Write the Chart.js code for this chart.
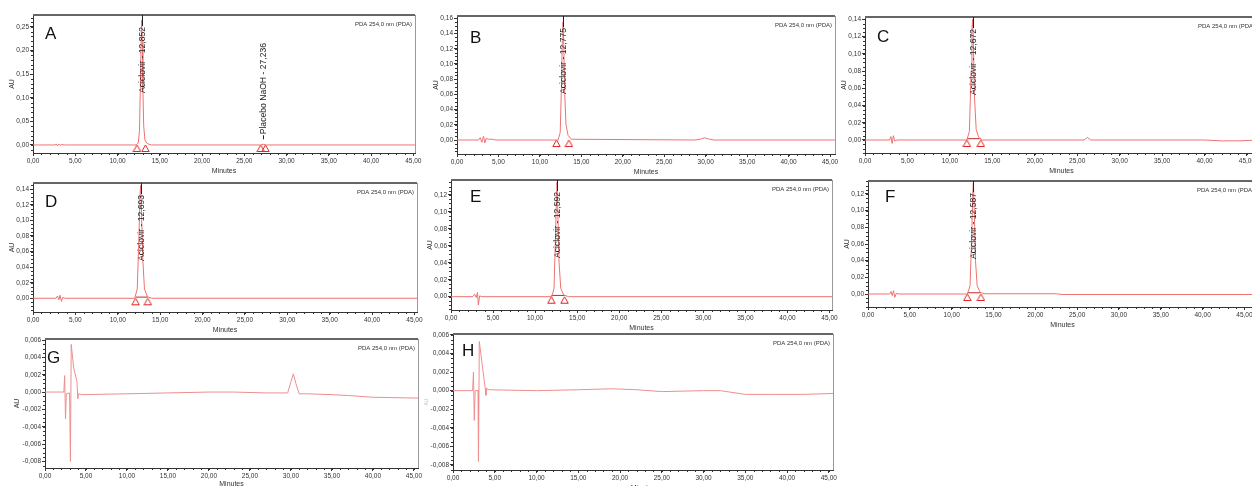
<!DOCTYPE html>
<html>
<head>
<meta charset="utf-8">
<script src="https://cdn.jsdelivr.net/npm/chart.js@4.4.1/dist/chart.umd.min.js"></script>
<style>
html, body { margin: 0; padding: 0; background: #fff; }
body { width: 1252px; height: 486px; overflow: hidden; position: relative; }
canvas { position: absolute; }
</style>
</head>
<body>
<script>
// ---- tick labels ----
const minuteTicks = [0, 5, 10, 15, 20, 25, 30, 35, 40, 45];
const auTicksA = [0, 0.05, 0.10, 0.15, 0.20, 0.25];
const auTicksB = [0, 0.02, 0.04, 0.06, 0.08, 0.10, 0.12, 0.14, 0.16];
const auTicksCD = [0, 0.02, 0.04, 0.06, 0.08, 0.10, 0.12, 0.14];
const auTicksEF = [0, 0.02, 0.04, 0.06, 0.08, 0.10, 0.12];
const auTicksGH = [-0.008, -0.006, -0.004, -0.002, 0, 0.002, 0.004, 0.006];

// ---- chromatograms (minutes / AU) ----
const timeA = [0, 2.6, 2.75, 2.9, 3.05, 3.2, 3.4, 3.7, 4.2, 12.2, 12.45, 12.6, 12.7, 12.8, 12.85, 12.92, 13.0, 13.1, 13.25, 13.5, 14.0, 26.9, 27.24, 27.6, 45.3];
const auA   = [0, 0, 0.002, -0.002, 0.002, -0.001, 0.001, 0, 0, 0, 0.004, 0.03, 0.12, 0.23, 0.265, 0.22, 0.12, 0.04, 0.01, 0.003, 0, 0, 0.0015, 0, 0];

const timeB = [0, 2.6, 2.8, 3.0, 3.2, 3.35, 3.5, 3.8, 4.3, 4.6, 12.2, 12.45, 12.6, 12.7, 12.78, 12.87, 13.0, 13.15, 13.4, 13.8, 28.8, 29.5, 29.85, 30.3, 31.0, 45.7];
const auB   = [0, 0, 0.003, -0.003, 0.005, -0.004, 0.002, 0.001, 0.001, 0, 0, 0.01, 0.07, 0.13, 0.155, 0.13, 0.06, 0.02, 0.006, 0.001, 0, 0.0015, 0.003, 0.0015, 0, 0];

const timeC = [0, 2.9, 3.05, 3.2, 3.35, 3.5, 3.8, 12.0, 12.3, 12.5, 12.6, 12.67, 12.75, 12.9, 13.1, 13.4, 13.8, 25.8, 26.2, 26.6, 40, 42, 44, 46.5];
const auC   = [0, 0, 0.004, -0.004, 0.005, -0.001, 0, 0, 0.01, 0.08, 0.125, 0.14, 0.12, 0.05, 0.012, 0.003, 0, 0, 0.003, 0, 0, -0.001, -0.001, 0];

const timeD = [0, 2.7, 2.9, 3.05, 3.2, 3.35, 3.5, 3.8, 12.0, 12.3, 12.5, 12.62, 12.69, 12.78, 12.95, 13.15, 13.5, 14.0, 45.4];
const auD   = [0, 0, 0.003, -0.002, 0.004, -0.004, 0.001, 0, 0, 0.012, 0.08, 0.13, 0.145, 0.12, 0.05, 0.012, 0.002, 0, 0];

const timeE = [0, 2.6, 2.8, 3.0, 3.15, 3.25, 3.4, 3.7, 12.0, 12.25, 12.45, 12.55, 12.6, 12.68, 12.85, 13.05, 13.4, 14.0, 45.4];
const auE   = [0, 0, 0.003, -0.001, 0.005, -0.01, 0.001, 0, 0, 0.01, 0.08, 0.125, 0.135, 0.11, 0.04, 0.01, 0.002, 0, 0];

const timeF = [0, 2.6, 2.75, 2.9, 3.05, 3.2, 3.4, 3.7, 11.9, 12.2, 12.4, 12.52, 12.59, 12.68, 12.85, 13.05, 13.4, 14.0, 22.5, 23.2, 45, 46.6];
const auF   = [0, 0, 0.003, -0.002, 0.004, -0.004, 0.001, 0, 0, 0.01, 0.07, 0.12, 0.133, 0.11, 0.04, 0.01, 0.002, 0.0003, 0.0003, -0.0006, -0.0006, -0.0006];

const timeG = [0, 2.3, 2.4, 2.5, 2.6, 3.0, 3.1, 3.2, 3.5, 3.9, 4.0, 4.1, 4.5, 10, 15, 20, 23, 27, 29.6, 30.0, 30.3, 30.6, 31.0, 32, 35, 37, 40, 45.6];
const auG   = [0, 0, 0.0019, -0.0031, -0.0002, -0.0001, -0.008, 0.0055, 0.0028, 0.0012, -0.0008, -0.0002, -0.0003, -0.0002, -0.0001, 0.0, 0.0, -0.0001, -0.0001, 0.0012, 0.0021, 0.0010, -0.0002, -0.0002, -0.0003, -0.0004, -0.0006, -0.0007];

const timeH = [0, 2.35, 2.45, 2.55, 2.65, 3.0, 3.05, 3.15, 3.5, 3.85, 3.95, 4.05, 4.3, 10, 15, 19, 22, 25, 30, 32, 35, 38, 42, 45.6];
const auH   = [0, 0, 0.002, -0.0032, 0, 0, -0.0076, 0.0053, 0.0028, 0.0003, -0.0005, 0.0002, 0.0001, 0, 0.0001, 0.0002, 0.0001, -0.0001, 0, 0, -0.0004, -0.0004, -0.0004, -0.0003];

// integration start/end marks (minutes)
const marksA = [12.3, 13.3, 26.95, 27.5];
const marksB = [12.0, 13.5];
const marksC = [12.0, 13.65];
const marksD = [12.1, 13.55];
const marksE = [11.93, 13.5];
const marksF = [11.87, 13.5];

// named peaks: retention time; au given -> label sits on top of the peak
const peaksA = [{ name: 'Aciclovir', rt: 12.852 }, { name: 'Placebo NaOH', rt: 27.236, au: 0.0015 }];
const peaksB = [{ name: 'Aciclovir', rt: 12.775 }];
const peaksC = [{ name: 'Aciclovir', rt: 12.672 }];
const peaksD = [{ name: 'Aciclovir', rt: 12.693 }];
const peaksE = [{ name: 'Aciclovir', rt: 12.592 }];
const peaksF = [{ name: 'Aciclovir', rt: 12.587 }];

// ---- layout ----
const family = '"Liberation Sans", Arial, sans-serif';
Chart.defaults.font.family = family;
Chart.defaults.color = '#333';

const panels = [
  { letter: 'A', time: timeA, au: auA, marks: marksA, base: false, peaks: peaksA, yTicks: auTicksA, yMinor: 0.01, dec: 2,
    box: [33, 15, 415, 153], xMax: 45.2, yMin: -0.017, yMax: 0.2754, W: 25, xh: 22, at: [12, 19] },
  { letter: 'B', time: timeB, au: auB, marks: marksB, base: false, peaks: peaksB, yTicks: auTicksB, yMinor: 0.005, dec: 2,
    box: [457, 16, 835, 154], xMax: 45.6, yMin: -0.0184, yMax: 0.163, W: 25, xh: 22, at: [13, 22] },
  { letter: 'C', time: timeC, au: auC, marks: marksC, base: true, peaks: peaksC, yTicks: auTicksCD, yMinor: 0.005, dec: 2,
    box: [865, 17, 1258, 153], xMax: 46.3, yMin: -0.0151, yMax: 0.1427, W: 25, xh: 22, at: [12, 20] },
  { letter: 'D', time: timeD, au: auD, marks: marksD, base: true, peaks: peaksD, yTicks: auTicksCD, yMinor: 0.005, dec: 2,
    box: [33, 183, 417, 312], xMax: 45.3, yMin: -0.0176, yMax: 0.148, W: 25, xh: 22, at: [12, 19] },
  { letter: 'E', time: timeE, au: auE, marks: marksE, base: true, peaks: peaksE, yTicks: auTicksEF, yMinor: 0.005, dec: 2,
    box: [451, 180, 832, 310], xMax: 45.3, yMin: -0.0157, yMax: 0.1377, W: 25, xh: 22, at: [19, 17] },
  { letter: 'F', time: timeF, au: auF, marks: marksF, base: true, peaks: peaksF, yTicks: auTicksEF, yMinor: 0.005, dec: 2,
    box: [868, 181, 1257, 307], xMax: 46.5, yMin: -0.0156, yMax: 0.1356, W: 25, xh: 22, at: [17, 16] },
  { letter: 'G', time: timeG, au: auG, marks: [], base: false, peaks: [], yTicks: auTicksGH, yMinor: 0.0005, dec: 3,
    box: [45, 339, 418, 468], xMax: 45.5, yMin: -0.00876, yMax: 0.00612, W: 32, xh: 20, at: [2, 19] },
  { letter: 'H', time: timeH, au: auH, marks: [], base: false, peaks: [], yTicks: auTicksGH, yMinor: 0.0005, dec: 3,
    box: [453, 334, 833, 470], xMax: 45.5, yMin: -0.00854, yMax: 0.0061, W: 29, xh: 22, at: [9, 17], faintAU: true }
];

const PAD_T = 6, PAD_R = 12;

function fmt(v, d) {
  return v.toFixed(d).replace('.', ',');
}

// open red triangle drawn just below the point it marks
function makeTriangle() {
  const c = document.createElement('canvas');
  c.width = 9; c.height = 16;
  const g = c.getContext('2d');
  g.strokeStyle = '#e02424';
  g.lineWidth = 1;
  g.beginPath();
  g.moveTo(4.5, 8);
  g.lineTo(8.2, 14.5);
  g.lineTo(0.8, 14.5);
  g.closePath();
  g.stroke();
  return c;
}
const triangle = makeTriangle();

// minor ticks, frame, panel letter, detector label and peak labels
const decor = {
  id: 'decor',
  afterDraw(chart, args, o) {
    const { ctx, chartArea: a, scales: { x, y } } = chart;
    ctx.save();

    ctx.strokeStyle = '#333';
    ctx.lineWidth = 1;
    ctx.beginPath();
    for (let n = Math.ceil(x.min / o.xMinor); n * o.xMinor <= x.max; n++) {
      const px = Math.round(x.getPixelForValue(n * o.xMinor)) + 0.5;
      ctx.moveTo(px, a.bottom);
      ctx.lineTo(px, a.bottom + 2);
    }
    for (let n = Math.ceil(y.min / o.yMinor - 1e-6); n * o.yMinor <= y.max; n++) {
      const py = Math.round(y.getPixelForValue(n * o.yMinor)) + 0.5;
      ctx.moveTo(a.left, py);
      ctx.lineTo(a.left - 2, py);
    }
    ctx.stroke();

    // frame: heavy top, thin right
    ctx.strokeStyle = '#666';
    ctx.lineWidth = 2;
    ctx.beginPath();
    ctx.moveTo(a.left, a.top);
    ctx.lineTo(a.right, a.top);
    ctx.stroke();
    ctx.strokeStyle = '#999';
    ctx.lineWidth = 1;
    ctx.beginPath();
    ctx.moveTo(a.right + 0.5, a.top);
    ctx.lineTo(a.right + 0.5, a.bottom);
    ctx.stroke();

    ctx.fillStyle = '#111';
    ctx.textBaseline = 'middle';
    ctx.textAlign = 'left';
    ctx.font = '17px ' + family;
    ctx.fillText(o.letter, a.left + o.at[0], a.top + o.at[1]);

    ctx.font = '6px ' + family;
    ctx.textAlign = 'right';
    ctx.fillStyle = '#333';
    ctx.fillText('PDA 254,0 nm (PDA)', a.right - 3, a.top + 9);

    ctx.font = '8.6px ' + family;
    ctx.fillStyle = '#222';
    ctx.strokeStyle = '#222';
    ctx.textAlign = 'left';
    o.peaks.forEach(p => {
      const px = Math.round(x.getPixelForValue(p.rt)) + 0.5;
      const label = p.name + ' - ' + fmt(p.rt, 3);
      const w = ctx.measureText(label).width;
      let y0;
      ctx.beginPath();
      if (p.au === undefined) {
        y0 = a.top + 12 + w;
        ctx.moveTo(px, a.top);
        ctx.lineTo(px, a.top + 11);
      } else {
        const base = y.getPixelForValue(p.au) - 5;
        ctx.moveTo(px, base);
        ctx.lineTo(px, base - 4);
        y0 = base - 5;
      }
      ctx.stroke();
      ctx.save();
      ctx.translate(px, y0);
      ctx.rotate(-Math.PI / 2);
      ctx.fillText(label, 0, 0);
      ctx.restore();
    });

    ctx.restore();
  }
};

panels.forEach(P => {
  const [l, t, r, b] = P.box;
  const canvas = document.createElement('canvas');
  canvas.width = P.W + (r - l) + PAD_R;
  canvas.height = PAD_T + (b - t) + P.xh;
  canvas.style.left = (l - P.W) + 'px';
  canvas.style.top = (t - PAD_T) + 'px';
  document.body.appendChild(canvas);

  const faint = P.letter === 'G' || P.letter === 'H';
  const datasets = [{
    data: P.time.map((m, i) => ({ x: m, y: P.au[i] })),
    borderColor: faint ? '#ee8e8e' : '#ee7272',
    borderWidth: 1,
    pointRadius: 0,
    tension: 0
  }];
  if (P.base) {
    datasets.push({
      data: [{ x: P.marks[0], y: 0.0015 }, { x: P.marks[1], y: 0.0015 }],
      borderColor: '#c62828',
      borderWidth: 1,
      pointRadius: 0
    });
  }
  if (P.marks.length) {
    datasets.push({
      data: P.marks.map(m => ({ x: m, y: 0 })),
      showLine: false,
      pointStyle: triangle,
      pointRadius: 4
    });
  }

  new Chart(canvas, {
    type: 'line',
    data: { datasets },
    options: {
      responsive: false,
      animation: false,
      events: [],
      layout: { padding: { top: PAD_T, right: PAD_R, left: 0, bottom: 0 } },
      plugins: {
        legend: { display: false },
        tooltip: { enabled: false },
        decor: { letter: P.letter, at: P.at, peaks: P.peaks, xMinor: 1, yMinor: P.yMinor }
      },
      scales: {
        x: {
          type: 'linear',
          min: 0,
          max: P.xMax,
          afterBuildTicks: s => { s.ticks = minuteTicks.map(v => ({ value: v })); },
          afterFit: s => { s.height = P.xh; },
          ticks: { callback: v => fmt(v, 2), font: { size: 6.5 }, color: '#333', padding: 1, maxRotation: 0, autoSkip: false },
          grid: { drawOnChartArea: false, tickLength: 3, color: '#333' },
          border: { color: '#333', width: 1 },
          title: { display: true, text: 'Minutes', font: { size: 7 }, color: '#333', padding: 0 }
        },
        y: {
          type: 'linear',
          min: P.yMin,
          max: P.yMax,
          afterBuildTicks: s => { s.ticks = P.yTicks.map(v => ({ value: v })); },
          afterFit: s => { s.width = P.W; },
          ticks: { callback: v => fmt(v, P.dec), font: { size: 6.5 }, color: '#333', padding: 1, autoSkip: false },
          grid: { drawOnChartArea: false, tickLength: 3, color: '#333' },
          border: { color: '#333', width: 1 },
          title: { display: true, text: 'AU', font: { size: P.faintAU ? 5 : 7 }, color: P.faintAU ? '#bbb' : '#333', padding: 0 }
        }
      }
    },
    plugins: [decor]
  });
});
</script>
</body>
</html>
